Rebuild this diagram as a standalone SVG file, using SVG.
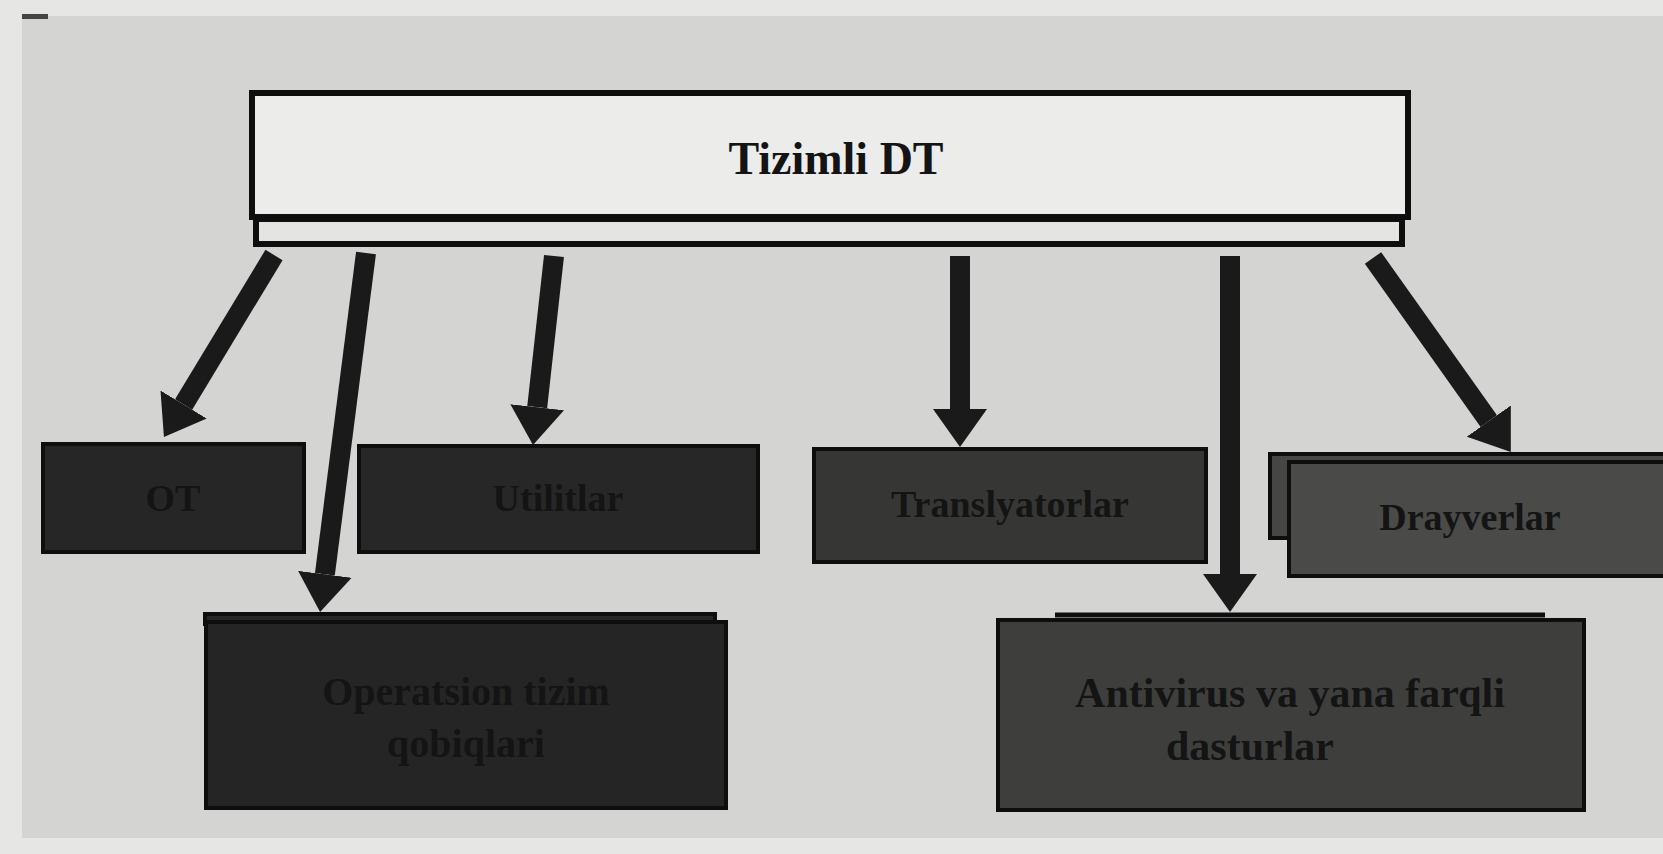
<svg xmlns="http://www.w3.org/2000/svg" width="1663" height="854" viewBox="0 0 1663 854">
<style>
.box{stroke:#0e0e0e;stroke-width:4}
.lbl{font-family:"Liberation Serif","DejaVu Serif",serif;font-weight:bold;fill:#141414;text-anchor:middle}
.arr{stroke:#1a1a1a;stroke-width:20;fill:none;marker-end:url(#ah)}
</style>
<defs>
<marker id="ah" markerUnits="userSpaceOnUse" markerWidth="40" markerHeight="54" refX="0" refY="27" orient="auto" viewBox="0 0 40 54">
<path d="M0,0 L38,27 L0,54 z" fill="#1a1a1a"/>
</marker>
</defs>
<rect x="0" y="0" width="1663" height="854" fill="#e6e6e4"/>
<rect x="22" y="16" width="1641" height="822" fill="#d4d4d2"/>
<rect x="22" y="14" width="26" height="5" fill="#444"/>

<g id="root">
<rect x="256" y="219" width="1146" height="25" fill="#e4e4e2" stroke="#0e0e0e" stroke-width="6"/>
<rect x="252" y="93" width="1156" height="124" fill="#ececea" stroke="#0e0e0e" stroke-width="6"/>
<text class="lbl" x="836" y="174" font-size="46">Tizimli DT</text>
</g>

<g id="n-ot">
<rect class="box" x="43" y="444" width="261" height="108" fill="#262626"/>
<text class="lbl" x="173" y="511" font-size="38">OT</text>
</g>
<g id="n-utilitlar">
<rect class="box" x="359" y="446" width="399" height="106" fill="#272727"/>
<text class="lbl" x="558" y="511" font-size="38">Utilitlar</text>
</g>
<g id="n-translyatorlar">
<rect class="box" x="814" y="449" width="392" height="113" fill="#363735"/>
<text class="lbl" x="1010" y="517" font-size="38">Translyatorlar</text>
</g>
<g id="n-drayverlar">
<rect class="box" x="1270" y="454" width="395" height="84" fill="#464644"/>
<rect class="box" x="1289" y="462" width="376" height="114" fill="#4a4a48"/>
<text class="lbl" x="1470" y="530" font-size="38">Drayverlar</text>
</g>
<g id="n-qobiqlar">
<rect class="box" x="205" y="614" width="510" height="10" fill="#262626"/>
<rect class="box" x="206" y="622" width="520" height="186" fill="#252525"/>
<text class="lbl" x="466" y="705" font-size="40">Operatsion tizim</text>
<text class="lbl" x="466" y="757" font-size="40">qobiqlari</text>
</g>
<g id="n-antivirus">
<line x1="1055" y1="615" x2="1545" y2="615" stroke="#0e0e0e" stroke-width="5"/>
<rect class="box" x="998" y="620" width="586" height="190" fill="#3e3f3d"/>
<text class="lbl" x="1290" y="707" font-size="42">Antivirus va yana farqli</text>
<text class="lbl" x="1250" y="760" font-size="42">dasturlar</text>
</g>

<g id="connectors">
<line class="arr" x1="274" y1="255" x2="183.6" y2="404.5"/>
<line class="arr" x1="366" y1="253" x2="324.9" y2="574.3"/>
<line class="arr" x1="554" y1="256" x2="537.2" y2="407.2"/>
<line class="arr" x1="960" y1="256" x2="960" y2="409"/>
<line class="arr" x1="1230" y1="256" x2="1230" y2="574"/>
<line class="arr" x1="1373" y1="258" x2="1488.8" y2="421.1"/>
</g>
</svg>
